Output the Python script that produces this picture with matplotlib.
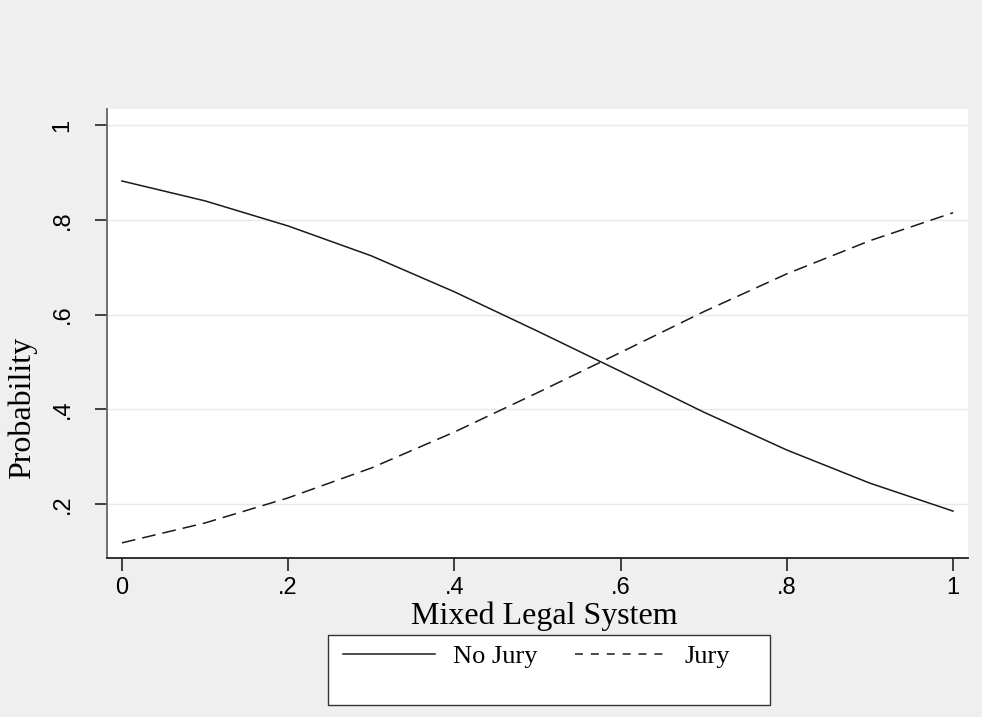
import matplotlib.pyplot as plt
from matplotlib.lines import Line2D
from matplotlib.patches import Rectangle

# predicted probabilities by share of mixed legal system
mixed = [0, .1, .2, .3, .4, .5, .6, .7, .8, .9, 1]
no_jury = [0.882, 0.840, 0.787, 0.724, 0.648, 0.565, 0.480, 0.394, 0.314, 0.244, 0.185]
jury = [0.118, 0.160, 0.213, 0.276, 0.352, 0.435, 0.520, 0.606, 0.686, 0.756, 0.815]

xticks = [0, .2, .4, .6, .8, 1]
xlabels = ["0", ".2", ".4", ".6", ".8", "1"]
yticks = [.2, .4, .6, .8, 1]
ylabels = [".2", ".4", ".6", ".8", "1"]

bg = "#efefef"
serif = "Liberation Serif"
sans = "Liberation Sans"
W, H = 982, 717

fig = plt.figure(figsize=(W / 100, H / 100), dpi=100, facecolor=bg)
ax = fig.add_axes([107 / W, 1 - 558 / H, (968 - 107) / W, (558 - 109) / H])
ax.set_facecolor("white")

ax.plot(mixed, no_jury, color="#1a1a1a", lw=1.1)
ax.plot(mixed, jury, color="#1a1a1a", lw=1.1, dashes=(9, 4.6))

ax.set_xlim(-0.018, 1.018)
ax.set_ylim(0.086, 1.034)

ax.set_xticks(xticks)
ax.set_xticklabels(xlabels, fontname=sans, fontsize=17)
ax.set_yticks(yticks)
ax.set_yticklabels(ylabels, fontname=sans, fontsize=17, rotation=90, va="center")
ax.tick_params(axis="x", length=9, width=1.2, color="#222222", pad=5)
ax.tick_params(axis="y", length=9, width=1.2, color="#222222", pad=15)

ax.grid(axis="y", color="#e8e8e8", lw=1)
ax.set_axisbelow(True)
for s in ["top", "right"]:
    ax.spines[s].set_visible(False)
ax.spines["left"].set_color("#666666")
ax.spines["left"].set_linewidth(1.3)
ax.spines["bottom"].set_color("#222222")
ax.spines["bottom"].set_linewidth(1.3)

fig.text(544 / W, 1 - 616 / H, "Mixed Legal System", fontname=serif, fontsize=23,
         ha="center", va="center")
fig.text(22 / W, 1 - 408 / H, "Probability", fontname=serif, fontsize=23,
         ha="center", va="center", rotation=90)

# legend box drawn separately so its size matches
fig.patches.append(Rectangle((328 / W, 1 - 705 / H), (770 - 328) / W, 70 / H,
                             transform=fig.transFigure, facecolor="white",
                             edgecolor="#333333", lw=1))
handles = [Line2D([], [], color="#1a1a1a", lw=1.1),
           Line2D([], [], color="#1a1a1a", lw=1.1, dashes=(5.2, 5.2))]
fig.legend(handles, ["No Jury", "Jury"], ncol=2, loc="center left",
           bbox_to_anchor=(343 / W, 1 - 656 / H), borderaxespad=0, borderpad=0,
           prop={"family": serif, "size": 19}, frameon=False,
           handlelength=3.5, columnspacing=1.45, handletextpad=0.65)

fig.savefig("out.png", dpi=100, facecolor=bg)
